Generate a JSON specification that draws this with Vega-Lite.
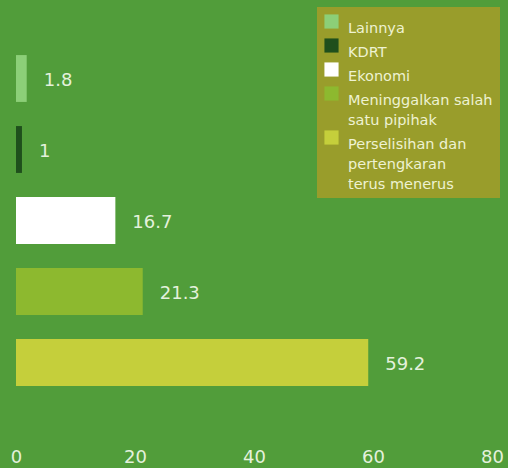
{
  "$schema": "https://vega.github.io/schema/vega-lite/v6.json",
  "width": 476,
  "height": 355,
  "autosize": {"type": "none"},
  "padding": {"left": 16, "top": 43, "right": 16, "bottom": 70},
  "background": "#519d3a",
  "config": {
    "view": {"stroke": null},
    "font": "DejaVu Sans",
    "style": {"guide-label": {"lineHeight": 20}}
  },
  "data": {
    "values": [
      {"kategori": "Lainnya", "persen": 1.8},
      {"kategori": "KDRT", "persen": 1},
      {"kategori": "Ekonomi", "persen": 16.7},
      {"kategori": "Meninggalkan salah satu pipihak", "persen": 21.3},
      {"kategori": "Perselisihan dan pertengkaran terus menerus", "persen": 59.2}
    ]
  },
  "encoding": {
    "y": {
      "field": "kategori",
      "type": "nominal",
      "sort": null,
      "scale": {"paddingInner": 0.34, "paddingOuter": 0.17},
      "axis": null
    },
    "x": {
      "field": "persen",
      "type": "quantitative",
      "scale": {"domain": [0, 80], "nice": false},
      "axis": {
        "values": [0, 20, 40, 60, 80],
        "title": null,
        "grid": false,
        "domain": false,
        "ticks": false,
        "labelPadding": 50,
        "labelFontSize": 18,
        "labelColor": "#e4f1dc",
        "labelFont": "DejaVu Sans",
        "labelFlush": false
      }
    }
  },
  "layer": [
    {
      "mark": {"type": "bar"},
      "encoding": {
        "color": {
          "field": "kategori",
          "type": "nominal",
          "sort": null,
          "scale": {
            "domain": ["Lainnya", "KDRT", "Ekonomi", "Meninggalkan salah satu pipihak", "Perselisihan dan pertengkaran terus menerus"],
            "range": ["#8ccf78", "#1f4f1c", "#ffffff", "#8db92f", "#c5cf3b"]
          },
          "legend": {
            "orient": "none",
            "legendX": 301,
            "legendY": -36,
            "title": null,
            "fillColor": "#999d2b",
            "padding": 7,
            "symbolType": "square",
            "symbolSize": 200,
            "symbolStrokeWidth": 0,
            "symbolOpacity": 1,
            "labelOffset": 9,
            "labelFontSize": 14.5,
            "labelFont": "DejaVu Sans",
            "labelColor": "#eef2d2",
            "labelLimit": 240,
            "labelBaseline": "top",
            "rowPadding": 3,
            "labelExpr": "datum.label == 'Meninggalkan salah satu pipihak' ? ['Meninggalkan salah', 'satu pipihak'] : datum.label == 'Perselisihan dan pertengkaran terus menerus' ? ['Perselisihan dan', 'pertengkaran', 'terus menerus'] : datum.label"
          }
        }
      }
    },
    {
      "mark": {"type": "text", "align": "left", "baseline": "middle", "dx": 17, "dy": 2, "fontSize": 18, "color": "#e4f1dc"},
      "encoding": {
        "text": {"field": "persen", "type": "quantitative"}
      }
    }
  ]
}
